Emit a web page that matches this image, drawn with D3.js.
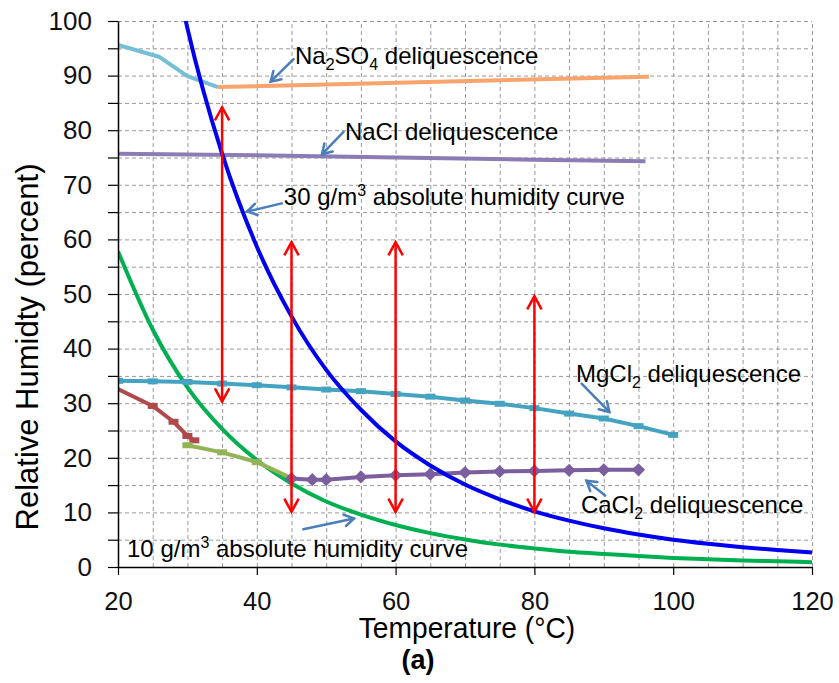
<!DOCTYPE html>
<html>
<head>
<meta charset="utf-8">
<script src="https://cdn.jsdelivr.net/npm/d3@7"></script>
<style>
  body { margin: 0; background: #fff; }
  text { font-family: "Liberation Sans", Arial, sans-serif; }
</style>
</head>
<body>
<script>
// values (temperature in degC, relative humidity in %)

// 30 g/m3 absolute humidity curve
const hum30T  = [29.5, 30, 35, 40, 45, 50, 55, 60, 65, 70, 75, 80, 85, 90, 95, 100, 105, 110, 115, 120];
const hum30RH = [101.5, 98.7, 75.7, 58.7, 45.9, 36.1, 28.8, 23.0, 18.6, 15.1, 12.4, 10.2, 8.5, 7.1, 5.95, 5.0, 4.26, 3.63, 3.1, 2.67];

// 10 g/m3 absolute humidity curve
const hum10T  = [20, 25, 30, 35, 40, 45, 50, 55, 60, 65, 70, 75, 80, 85, 90, 95, 100, 105, 110, 115, 120];
const hum10RH = [57.8, 43.5, 32.9, 25.3, 19.6, 15.3, 12.0, 9.6, 7.7, 6.2, 5.05, 4.1, 3.4, 2.8, 2.4, 2.0, 1.67, 1.42, 1.21, 1.04, 0.89];

// Na2SO4 (decahydrate branch, then anhydrous branch)
const na2so4LowT  = [20, 26, 30, 34.4];
const na2so4LowRH = [95.6, 93.4, 89.9, 87.9];
const na2so4HighT  = [34.4, 96.5];
const na2so4HighRH = [87.9, 89.8];

// NaCl
const naclT  = [20, 40, 60, 80, 96];
const naclRH = [75.7, 75.4, 75.0, 74.6, 74.3];

// MgCl2
const mgcl2T  = [20, 25, 30, 35, 40, 45, 50, 55, 60, 65, 70, 75, 80, 85, 90, 95, 100];
const mgcl2RH = [34.1, 34.0, 33.9, 33.6, 33.3, 32.9, 32.5, 32.2, 31.7, 31.2, 30.5, 29.9, 29.1, 28.1, 27.2, 25.8, 24.2];

// CaCl2 hexahydrate / tetrahydrate / lower hydrate branches
const cacl2aT  = [20, 25, 28, 30, 31];
const cacl2aRH = [32.6, 29.5, 26.6, 24.0, 23.2];
const cacl2bT  = [30, 35, 40, 45];
const cacl2bRH = [22.3, 21.0, 19.2, 16.3];
const cacl2cT  = [45, 48, 50, 55, 60, 65, 70, 75, 80, 85, 90, 95];
const cacl2cRH = [16.2, 16.0, 16.0, 16.5, 16.8, 17.0, 17.3, 17.5, 17.6, 17.7, 17.8, 17.8];

// red double-headed arrows
const arrowT    = [35, 45, 60, 80];
const arrowLow  = [30.3, 10.1, 10.1, 10.1];
const arrowHigh = [84.2, 59.5, 59.5, 49.6];

// annotations: text position and pointer arrow (from -> to)
const noteText = [
  [["Na", ""], ["2", "sub"], ["SO", ""], ["4", "sub"], [" deliquescence", ""]],
  [["NaCl deliquescence", ""]],
  [["30 g/m", ""], ["3", "sup"], [" absolute humidity  curve", ""]],
  [["MgCl", ""], ["2", "sub"], [" deliquescence", ""]],
  [["CaCl", ""], ["2", "sub"], [" deliquescence", ""]],
  [["10 g/m", ""], ["3", "sup"], [" absolute humidity curve", ""]]
];
const noteT  = [45.5, 52.7, 43.9, 86.0, 86.7, 21.3];
const noteRH = [92.1, 78.2, 66.3, 33.9, 9.9, 1.8];
const pointFromT  = [45.3, 52.5, 43.6, 86.8, 90.2, 46.7];
const pointFromRH = [93.0, 79.7, 66.6, 33.6, 13.1, 6.9];
const pointToT    = [42.0, 49.4, 38.6, 90.8, 87.5, 54.0];
const pointToRH   = [88.9, 75.6, 65.1, 28.4, 15.8, 8.9];

const xTicks = [20, 40, 60, 80, 100, 120];
const yTicks = d3.range(0, 101, 5);
const gridX = d3.range(25, 121, 5);
const gridY = d3.range(5, 101, 5);

// layout
const width = 839, height = 683;
const margin = { top: 21, right: 27, bottom: 116, left: 118 };
const innerW = width - margin.left - margin.right;
const innerH = height - margin.top - margin.bottom;

const svg = d3.select('body').append('svg')
  .attr('width', width)
  .attr('height', height);

const g = svg.append('g')
  .attr('transform', `translate(${margin.left},${margin.top})`);

const x = d3.scaleLinear().domain([20, 120]).range([0, innerW]);
const y = d3.scaleLinear().domain([0, 100]).range([innerH, 0]);

svg.append('defs').append('clipPath').attr('id', 'plot')
  .append('rect').attr('width', innerW).attr('height', innerH);

// dashed grid
g.append('g')
  .attr('transform', `translate(0,${innerH})`)
  .call(d3.axisBottom(x).tickValues(gridX).tickSize(-innerH).tickFormat(''))
  .call(s => s.select('.domain').remove())
  .selectAll('line').attr('stroke', '#9a9a9a').attr('stroke-dasharray', '4,3');

g.append('g')
  .call(d3.axisLeft(y).tickValues(gridY).tickSize(-innerW).tickFormat(''))
  .call(s => s.select('.domain').remove())
  .selectAll('line').attr('stroke', '#9a9a9a').attr('stroke-dasharray', '4,3');

const line = d3.line().x(d => x(d[0])).y(d => y(d[1]));
const smooth = d3.line().x(d => x(d[0])).y(d => y(d[1])).curve(d3.curveMonotoneX);

const plot = g.append('g').attr('clip-path', 'url(#plot)');

function drawSeries(ts, rhs, color, gen) {
  plot.append('path')
    .datum(d3.zip(ts, rhs))
    .attr('fill', 'none')
    .attr('stroke', color)
    .attr('stroke-width', 4)
    .attr('stroke-linejoin', 'round')
    .attr('d', gen);
}

function dashMarkers(ts, rhs, color) {
  plot.selectAll(null)
    .data(d3.zip(ts, rhs))
    .join('rect')
    .attr('x', d => x(d[0]) - 5)
    .attr('y', d => y(d[1]) - 3)
    .attr('width', 10)
    .attr('height', 6)
    .attr('fill', color);
}

drawSeries(na2so4LowT, na2so4LowRH, '#74bfd6', line);
drawSeries(na2so4HighT, na2so4HighRH, '#f8a46c', line);
drawSeries(naclT, naclRH, '#8b7cb6', line);
drawSeries(hum10T, hum10RH, '#00b050', smooth);
drawSeries(mgcl2T, mgcl2RH, '#45a3c2', line);
dashMarkers(mgcl2T, mgcl2RH, '#45a3c2');
drawSeries(cacl2aT, cacl2aRH, '#b0494a', line);
dashMarkers(cacl2aT.slice(1), cacl2aRH.slice(1), '#b0494a');
drawSeries(cacl2bT, cacl2bRH, '#93b456', line);
dashMarkers(cacl2bT.slice(0, 3), cacl2bRH.slice(0, 3), '#93b456');
drawSeries(cacl2cT, cacl2cRH, '#7b5e9e', line);
plot.selectAll(null)
  .data(d3.zip(cacl2cT, cacl2cRH))
  .join('path')
  .attr('transform', d => `translate(${x(d[0])},${y(d[1])})`)
  .attr('d', d3.symbol(d3.symbolDiamond2, 110))
  .attr('fill', '#7b5e9e');
drawSeries(hum30T, hum30RH, '#0000ee', smooth);

// open arrow head at (x2,y2) pointing away from (x1,y1)
function chevron(x1, y1, x2, y2, len, half) {
  const a = Math.atan2(y2 - y1, x2 - x1);
  const p1 = [x2 - len * Math.cos(a - half), y2 - len * Math.sin(a - half)];
  const p2 = [x2 - len * Math.cos(a + half), y2 - len * Math.sin(a + half)];
  return `M${p1[0]},${p1[1]}L${x2},${y2}L${p2[0]},${p2[1]}`;
}

// red double arrows
arrowT.forEach((t, i) => {
  const ax = x(t), yl = y(arrowLow[i]), yh = y(arrowHigh[i]);
  const a = g.append('g').attr('stroke', '#ff0000').attr('stroke-width', 2.5).attr('fill', 'none');
  a.append('line').attr('x1', ax).attr('x2', ax).attr('y1', yl).attr('y2', yh);
  a.append('path').attr('d', chevron(ax, yl, ax, yh, 15, 0.5));
  a.append('path').attr('d', chevron(ax, yh, ax, yl, 15, 0.5));
});

// annotation pointers
pointFromT.forEach((t, i) => {
  const x1 = x(t), y1 = y(pointFromRH[i]), x2 = x(pointToT[i]), y2 = y(pointToRH[i]);
  const a = g.append('g').attr('stroke', '#4a7ebb').attr('stroke-width', 2.5)
    .attr('fill', 'none').attr('stroke-linecap', 'round');
  a.append('line').attr('x1', x1).attr('y1', y1).attr('x2', x2).attr('y2', y2);
  a.append('path').attr('d', chevron(x1, y1, x2, y2, 11, 0.55));
});

// annotation labels
noteText.forEach((parts, i) => {
  const t = g.append('text')
    .attr('x', x(noteT[i]))
    .attr('y', y(noteRH[i]))
    .attr('font-size', 24)
    .attr('fill', '#000');
  let shift = 0;
  parts.forEach(([s, kind]) => {
    const want = kind === 'sub' ? 6 : kind === 'sup' ? -9 : 0;
    t.append('tspan')
      .attr('dy', want - shift)
      .attr('font-size', kind ? 16 : 24)
      .text(s);
    shift = want;
  });
});

// axes
const xAxis = g.append('g')
  .attr('transform', `translate(0,${innerH})`)
  .call(d3.axisBottom(x).tickValues(xTicks).tickSize(8).tickPadding(17).tickSizeOuter(0));
xAxis.selectAll('text').attr('font-size', 25.5).attr('fill', '#111');

const yAxis = g.append('g')
  .call(d3.axisLeft(y).tickValues(yTicks).tickSize(10).tickPadding(16).tickSizeOuter(0)
    .tickFormat(d => d % 10 === 0 ? d : ''));
yAxis.selectAll('text').attr('font-size', 26).attr('fill', '#111');

[xAxis, yAxis].forEach(a => {
  a.select('.domain').attr('stroke', '#000').attr('stroke-width', 1.5);
  a.selectAll('line').attr('stroke', '#000').attr('stroke-width', 1.2);
});

svg.append('text')
  .attr('transform', `translate(38,${margin.top + 326}) rotate(-90)`)
  .attr('text-anchor', 'middle')
  .attr('font-size', 31)
  .text('Relative Humidty (percent)');

svg.append('text')
  .attr('transform', 'translate(467,638) scale(0.94,1)')
  .attr('text-anchor', 'middle')
  .attr('font-size', 30)
  .text('Temperature (°C)');

svg.append('text')
  .attr('x', 418)
  .attr('y', 669)
  .attr('text-anchor', 'middle')
  .attr('font-size', 27)
  .attr('font-weight', 'bold')
  .text('(a)');
</script>
</body>
</html>
